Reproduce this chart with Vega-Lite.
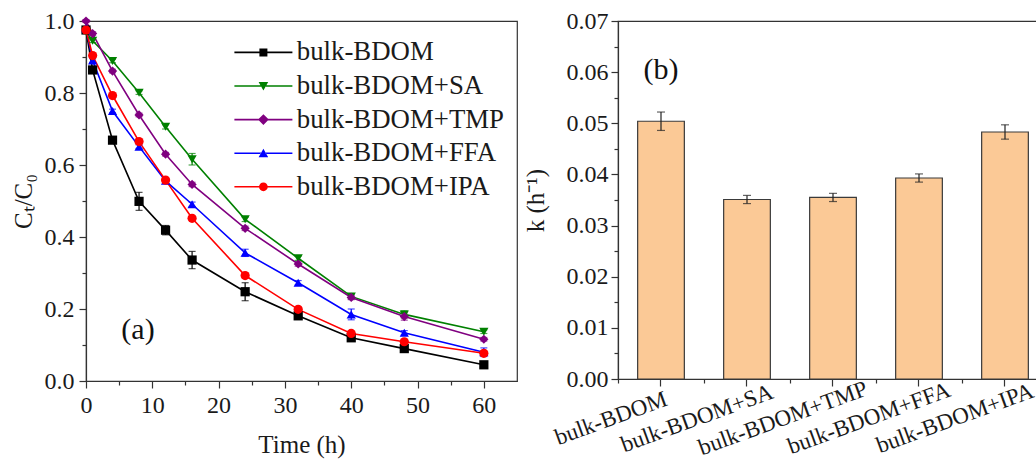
{
  "$schema": "https://vega.github.io/schema/vega-lite/v6.json",
  "background": "white",
  "padding": {"left": 10, "top": 8, "right": 0, "bottom": 0},
  "spacing": 4,
  "datasets": {
    "kinetics": [
      {"series": "bulk-BDOM", "t": 0, "v": 0.975, "err": 0.004},
      {"series": "bulk-BDOM", "t": 1, "v": 0.864, "err": 0.006},
      {"series": "bulk-BDOM", "t": 4, "v": 0.669, "err": 0.006},
      {"series": "bulk-BDOM", "t": 8, "v": 0.499, "err": 0.025},
      {"series": "bulk-BDOM", "t": 12, "v": 0.419, "err": 0.013},
      {"series": "bulk-BDOM", "t": 16, "v": 0.336, "err": 0.024},
      {"series": "bulk-BDOM", "t": 24, "v": 0.248, "err": 0.025},
      {"series": "bulk-BDOM", "t": 32, "v": 0.181, "err": 0.006},
      {"series": "bulk-BDOM", "t": 40, "v": 0.12, "err": 0.005},
      {"series": "bulk-BDOM", "t": 48, "v": 0.09, "err": 0.005},
      {"series": "bulk-BDOM", "t": 60, "v": 0.045, "err": 0.004},
      {"series": "bulk-BDOM+SA", "t": 0, "v": 0.97, "err": 0.004},
      {"series": "bulk-BDOM+SA", "t": 1, "v": 0.945, "err": 0.005},
      {"series": "bulk-BDOM+SA", "t": 4, "v": 0.889, "err": 0.005},
      {"series": "bulk-BDOM+SA", "t": 8, "v": 0.801, "err": 0.005},
      {"series": "bulk-BDOM+SA", "t": 12, "v": 0.706, "err": 0.006},
      {"series": "bulk-BDOM+SA", "t": 16, "v": 0.616, "err": 0.016},
      {"series": "bulk-BDOM+SA", "t": 24, "v": 0.449, "err": 0.006},
      {"series": "bulk-BDOM+SA", "t": 32, "v": 0.341, "err": 0.006},
      {"series": "bulk-BDOM+SA", "t": 40, "v": 0.235, "err": 0.007},
      {"series": "bulk-BDOM+SA", "t": 48, "v": 0.185, "err": 0.01},
      {"series": "bulk-BDOM+SA", "t": 60, "v": 0.137, "err": 0.005},
      {"series": "bulk-BDOM+TMP", "t": 0, "v": 1.0, "err": 0.004},
      {"series": "bulk-BDOM+TMP", "t": 1, "v": 0.965, "err": 0.005},
      {"series": "bulk-BDOM+TMP", "t": 4, "v": 0.861, "err": 0.005},
      {"series": "bulk-BDOM+TMP", "t": 8, "v": 0.739, "err": 0.005},
      {"series": "bulk-BDOM+TMP", "t": 12, "v": 0.63, "err": 0.005},
      {"series": "bulk-BDOM+TMP", "t": 16, "v": 0.546, "err": 0.006},
      {"series": "bulk-BDOM+TMP", "t": 24, "v": 0.424, "err": 0.006},
      {"series": "bulk-BDOM+TMP", "t": 32, "v": 0.325, "err": 0.006},
      {"series": "bulk-BDOM+TMP", "t": 40, "v": 0.232, "err": 0.006},
      {"series": "bulk-BDOM+TMP", "t": 48, "v": 0.179, "err": 0.01},
      {"series": "bulk-BDOM+TMP", "t": 60, "v": 0.116, "err": 0.005},
      {"series": "bulk-BDOM+FFA", "t": 0, "v": 0.98, "err": 0.004},
      {"series": "bulk-BDOM+FFA", "t": 1, "v": 0.89, "err": 0.005},
      {"series": "bulk-BDOM+FFA", "t": 4, "v": 0.75, "err": 0.005},
      {"series": "bulk-BDOM+FFA", "t": 8, "v": 0.651, "err": 0.005},
      {"series": "bulk-BDOM+FFA", "t": 12, "v": 0.556, "err": 0.005},
      {"series": "bulk-BDOM+FFA", "t": 16, "v": 0.491, "err": 0.006},
      {"series": "bulk-BDOM+FFA", "t": 24, "v": 0.356, "err": 0.01},
      {"series": "bulk-BDOM+FFA", "t": 32, "v": 0.273, "err": 0.006},
      {"series": "bulk-BDOM+FFA", "t": 40, "v": 0.185, "err": 0.015},
      {"series": "bulk-BDOM+FFA", "t": 48, "v": 0.134, "err": 0.006},
      {"series": "bulk-BDOM+FFA", "t": 60, "v": 0.08, "err": 0.012},
      {"series": "bulk-BDOM+IPA", "t": 0, "v": 0.975, "err": 0.004},
      {"series": "bulk-BDOM+IPA", "t": 1, "v": 0.904, "err": 0.005},
      {"series": "bulk-BDOM+IPA", "t": 4, "v": 0.793, "err": 0.005},
      {"series": "bulk-BDOM+IPA", "t": 8, "v": 0.665, "err": 0.006},
      {"series": "bulk-BDOM+IPA", "t": 12, "v": 0.558, "err": 0.005},
      {"series": "bulk-BDOM+IPA", "t": 16, "v": 0.452, "err": 0.005},
      {"series": "bulk-BDOM+IPA", "t": 24, "v": 0.293, "err": 0.006},
      {"series": "bulk-BDOM+IPA", "t": 32, "v": 0.199, "err": 0.006},
      {"series": "bulk-BDOM+IPA", "t": 40, "v": 0.132, "err": 0.005},
      {"series": "bulk-BDOM+IPA", "t": 48, "v": 0.109, "err": 0.006},
      {"series": "bulk-BDOM+IPA", "t": 60, "v": 0.077, "err": 0.006}
    ],
    "panelA": [{"t": 7.84, "v": 0.142, "label": "(a)"}],
    "rates": [
      {"sample": "bulk-BDOM", "k": 0.0504, "err": 0.0018},
      {"sample": "bulk-BDOM+SA", "k": 0.0351, "err": 0.0008},
      {"sample": "bulk-BDOM+TMP", "k": 0.0355, "err": 0.0008},
      {"sample": "bulk-BDOM+FFA", "k": 0.0393, "err": 0.0008},
      {"sample": "bulk-BDOM+IPA", "k": 0.0483, "err": 0.0014}
    ],
    "panelB": [{"sample": "bulk-BDOM", "k": 0.0604, "label": "(b)"}]
  },
  "hconcat": [
    {
      "width": 431,
      "height": 360,
      "data": {"name": "kinetics"},
      "resolve": {"axis": {"x": "independent", "y": "independent"}, "scale": {"color": "independent", "shape": "independent"}, "legend": {"color": "independent", "shape": "independent"}},
      "layer": [
        {
          "mark": {"type": "line", "strokeWidth": 1.6},
          "encoding": {
            "x": {"field": "t", "type": "quantitative", "scale": {"domain": [0, 65], "nice": false},
              "axis": {"values": [0, 10, 20, 30, 40, 50, 60], "format": "d", "title": "Time (h)", "tickSize": 7, "labelPadding": 5, "titlePadding": 15}},
            "y": {"field": "v", "type": "quantitative", "scale": {"domain": [0, 1], "nice": false},
              "axis": {"values": [0, 0.2, 0.4, 0.6, 0.8, 1.0], "format": ".1f", "title": "Cₜ/C₀", "tickSize": 7, "labelPadding": 5, "titlePadding": 8}},
            "color": {"field": "series", "type": "nominal",
              "scale": {"domain": ["bulk-BDOM", "bulk-BDOM+SA", "bulk-BDOM+TMP", "bulk-BDOM+FFA", "bulk-BDOM+IPA"],
                        "range": ["#000000", "#008000", "#800080", "#0000FF", "#FF0000"]},
              "legend": null}
          }
        },
        {
          "mark": {"type": "errorbar", "ticks": {"size": 7}, "thickness": 1.2},
          "encoding": {
            "x": {"field": "t", "type": "quantitative", "axis": null},
            "y": {"field": "v", "type": "quantitative", "axis": null},
            "yError": {"field": "err"},
            "color": {"field": "series", "type": "nominal",
              "scale": {"domain": ["bulk-BDOM", "bulk-BDOM+SA", "bulk-BDOM+TMP", "bulk-BDOM+FFA", "bulk-BDOM+IPA"],
                        "range": ["#000000", "#008000", "#800080", "#0000FF", "#FF0000"]},
              "legend": null}
          }
        },
        {
          "mark": {"type": "point", "filled": true, "opacity": 1, "size": 85},
          "encoding": {
            "x": {"field": "t", "type": "quantitative", "axis": null},
            "y": {"field": "v", "type": "quantitative", "axis": null},
            "color": {"field": "series", "type": "nominal",
              "scale": {"domain": ["bulk-BDOM", "bulk-BDOM+SA", "bulk-BDOM+TMP", "bulk-BDOM+FFA", "bulk-BDOM+IPA"],
                        "range": ["#000000", "#008000", "#800080", "#0000FF", "#FF0000"]},
              "legend": null},
            "shape": {"field": "series", "type": "nominal",
              "scale": {"domain": ["bulk-BDOM", "bulk-BDOM+SA", "bulk-BDOM+TMP", "bulk-BDOM+FFA", "bulk-BDOM+IPA"],
                        "range": ["square", "triangle-down", "diamond", "triangle-up", "circle"]},
              "legend": null}
          }
        },
        {
          "transform": [{"filter": "datum.t < 0"}],
          "mark": {"type": "point", "filled": true, "opacity": 1},
          "encoding": {
            "x": {"field": "t", "type": "quantitative", "axis": null},
            "y": {"field": "v", "type": "quantitative", "axis": null},
            "color": {"field": "series", "type": "nominal",
              "scale": {"domain": ["bulk-BDOM", "bulk-BDOM+SA", "bulk-BDOM+TMP", "bulk-BDOM+FFA", "bulk-BDOM+IPA"],
                        "range": ["#000000", "#008000", "#800080", "#0000FF", "#FF0000"]},
              "legend": {"title": null, "orient": "none", "legendX": 164, "legendY": 18, "padding": 0,
                "labelFont": "Liberation Serif", "labelFontSize": 26.8, "labelColor": "#1a1a1a", "labelOffset": 20, "symbolSize": 64, "rowPadding": 5.6, "labelLimit": 400, "symbolOpacity": 1, "symbolStrokeWidth": 0}},
            "shape": {"field": "series", "type": "nominal",
              "scale": {"domain": ["bulk-BDOM", "bulk-BDOM+SA", "bulk-BDOM+TMP", "bulk-BDOM+FFA", "bulk-BDOM+IPA"],
                        "range": [
                          "M-7.25,-0.2H-0.6V0.2H-7.25Z M0.6,-0.2H7.25V0.2H0.6Z M-1,-1H1V1H-1Z",
                          "M-7.25,-0.2H-0.6V0.2H-7.25Z M0.6,-0.2H7.25V0.2H0.6Z M-1.2,-1H1.2L0,1.1Z",
                          "M-7.25,-0.2H-0.6V0.2H-7.25Z M0.6,-0.2H7.25V0.2H0.6Z M0,-1.35L1.35,0L0,1.35L-1.35,0Z",
                          "M-7.25,-0.2H-0.6V0.2H-7.25Z M0.6,-0.2H7.25V0.2H0.6Z M-1.2,1H1.2L0,-1.1Z",
                          "M-7.25,-0.2H-0.6V0.2H-7.25Z M0.6,-0.2H7.25V0.2H0.6Z M1.1,0A1.1,1.1 0 1,1 -1.1,0A1.1,1.1 0 1,1 1.1,0Z"
                        ]},
              "legend": {"title": null, "orient": "none", "legendX": 164, "legendY": 18, "padding": 0,
                "labelFont": "Liberation Serif", "labelFontSize": 26.8, "labelColor": "#1a1a1a", "labelOffset": 20, "symbolSize": 64, "rowPadding": 5.6, "labelLimit": 400, "symbolOpacity": 1, "symbolStrokeWidth": 0}}
          }
        },
        {
          "data": {"name": "panelA"},
          "mark": {"type": "text", "fontSize": 30, "font": "Liberation Serif", "color": "#111"},
          "encoding": {
            "x": {"field": "t", "type": "quantitative", "axis": null},
            "y": {"field": "v", "type": "quantitative", "axis": null},
            "text": {"field": "label"}
          }
        },
        {
          "mark": {"type": "point", "opacity": 0},
          "encoding": {
            "x": {"field": "t", "type": "quantitative",
              "axis": {"orient": "bottom", "values": [5, 15, 25, 35, 45, 55], "labels": false, "domain": false, "tickSize": 4, "title": null}},
            "y": {"field": "v", "type": "quantitative",
              "axis": {"orient": "left", "values": [0.1, 0.3, 0.5, 0.7, 0.9], "labels": false, "domain": false, "tickSize": 4, "title": null}}
          }
        }
      ]
    },
    {
      "width": 430,
      "height": 358,
      "data": {"name": "rates"},
      "resolve": {"axis": {"x": "independent", "y": "independent"}},
      "layer": [
        {
          "mark": {"type": "bar", "fill": "#FBC996", "stroke": "#3a3a3a", "strokeWidth": 1.2},
          "encoding": {
            "x": {"field": "sample", "type": "nominal",
              "scale": {"domain": ["bulk-BDOM", "bulk-BDOM+SA", "bulk-BDOM+TMP", "bulk-BDOM+FFA", "bulk-BDOM+IPA"], "paddingInner": 0.457, "paddingOuter": 0.2285},
              "axis": {"title": null, "labelAngle": -20, "labelAlign": "center", "labelBaseline": "middle", "labelOffset": -50, "labelPadding": 32, "labelFontSize": 23, "tickSize": 7}},
            "y": {"field": "k", "type": "quantitative", "scale": {"domain": [0, 0.07], "nice": false},
              "axis": {"values": [0, 0.01, 0.02, 0.03, 0.04, 0.05, 0.06, 0.07], "format": ".2f", "title": "k (h⁻¹)", "tickSize": 7, "labelPadding": 3, "titlePadding": 18}}
          }
        },
        {
          "mark": {"type": "errorbar", "ticks": {"size": 8}, "thickness": 1.2, "color": "#222222"},
          "encoding": {
            "x": {"field": "sample", "type": "nominal", "axis": null},
            "y": {"field": "k", "type": "quantitative", "axis": null},
            "yError": {"field": "err"}
          }
        },
        {
          "data": {"name": "panelB"},
          "mark": {"type": "text", "fontSize": 30, "font": "Liberation Serif", "color": "#111"},
          "encoding": {
            "x": {"field": "sample", "type": "nominal", "axis": null},
            "y": {"field": "k", "type": "quantitative", "axis": null},
            "text": {"field": "label"}
          }
        },
        {
          "mark": {"type": "point", "opacity": 0},
          "encoding": {
            "x": {"field": "sample", "type": "nominal",
              "axis": {"orient": "bottom", "labels": false, "domain": false, "tickSize": 4, "tickOffset": -43, "title": null}},
            "y": {"field": "k", "type": "quantitative",
              "axis": {"orient": "left", "values": [0.005, 0.015, 0.025, 0.035, 0.045, 0.055, 0.065], "labels": false, "domain": false, "tickSize": 4, "title": null}}
          }
        }
      ]
    }
  ],
  "config": {
    "font": "Liberation Serif",
    "view": {"stroke": "#333333", "strokeWidth": 1.2},
    "axis": {
      "labelFont": "Liberation Serif", "titleFont": "Liberation Serif",
      "labelFontSize": 24, "titleFontSize": 25, "titleFontWeight": "normal",
      "labelColor": "#1a1a1a", "titleColor": "#1a1a1a",
      "domainColor": "#333333", "tickColor": "#333333", "domainWidth": 1.2, "tickWidth": 1.2,
      "grid": false, "labelFlush": false, "labelOverlap": false
    },
    "legend": {"labelFont": "Liberation Serif", "labelFontSize": 26.8, "labelColor": "#1a1a1a", "rowPadding": 5.6, "labelLimit": 400, "padding": 0},
    "text": {"font": "Liberation Serif"}
  }
}
